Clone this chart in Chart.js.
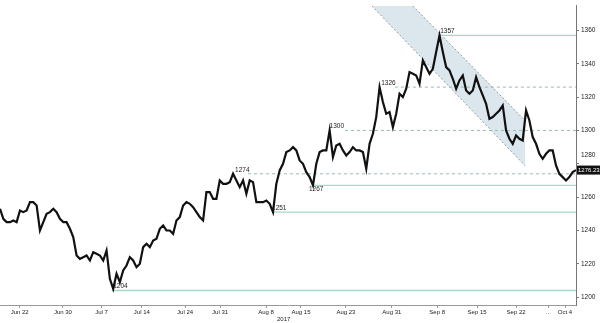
<!DOCTYPE html>
<html>
<head>
<meta charset="utf-8">
<script src="https://cdn.jsdelivr.net/npm/chart.js@4"></script>
<style>
  html, body { margin: 0; padding: 0; background: #fff; }
</style>
</head>
<body>
<canvas id="goldChart" width="600" height="323"></canvas>
<script>
// gold, intraday sessions Jun -> Oct 2017
const prices = [
  1253, 1247, 1245, 1245, 1246, 1245, 1252, 1251, 1252, 1257,
  1257, 1255, 1240, 1245, 1250, 1251, 1253, 1251, 1247, 1245,
  1245, 1241, 1236, 1225, 1223, 1224, 1225, 1222, 1227, 1226,
  1225, 1222, 1228, 1211, 1205, 1214, 1209, 1216, 1219, 1224,
  1222, 1218, 1220, 1230, 1232, 1230, 1234, 1235, 1241, 1243,
  1240, 1240, 1238, 1246, 1248, 1255, 1257, 1256, 1254, 1251,
  1248, 1246, 1263, 1263, 1259, 1259, 1270, 1268, 1268, 1269,
  1274, 1270, 1266, 1270, 1262, 1270, 1269, 1257, 1257, 1257,
  1258, 1256, 1251, 1268, 1276, 1280, 1287, 1288, 1290, 1288,
  1282, 1280, 1275, 1272, 1267, 1280, 1287, 1288, 1288, 1300,
  1284, 1291, 1292, 1288, 1285, 1287, 1290, 1288, 1288, 1287,
  1277, 1292, 1298, 1308, 1326, 1317, 1310, 1311, 1302, 1310,
  1322, 1320, 1325, 1335, 1334, 1333, 1328, 1342, 1338, 1334,
  1337, 1347, 1357, 1347, 1338, 1336, 1331, 1325, 1330, 1333,
  1324, 1322, 1324, 1332, 1326, 1321, 1316, 1307, 1308, 1310,
  1312, 1315, 1300, 1295, 1292, 1297, 1295, 1294, 1312, 1306,
  1296, 1292, 1286, 1283, 1286, 1288, 1288, 1279, 1274, 1272,
  1270, 1272, 1275, 1276.23
];
const lastPrice = 1276.23;

const yTicks = [1200, 1220, 1240, 1260, 1280, 1300, 1320, 1340, 1360];
const xTickAt = [5.9, 18.9, 30.5, 42.6, 55.6, 66.1, 79.9, 90.4, 103.9, 117.7, 131.3, 143.3, 155, 164.7, 169.7];
const xTickLabels = ['Jun 22', 'Jun 30', 'Jul 7', 'Jul 14', 'Jul 24', 'Jul 31', 'Aug 8', 'Aug 15',
  'Aug 23', 'Aug 31', 'Sep 8', 'Sep 15', 'Sep 22', '...', 'Oct 4'];
const yearLabel = '2017';
const yearAt = 85.2;

// support / resistance levels
const levelValues = [1357, 1326, 1300, 1274, 1267, 1251, 1204];
const levelLabelAt = [132.2, 114.5, 99, 70.6, 92.8, 81.7, 34];
const levelLineFrom = [132.2, 118.6, 103.6, 74.5, 94, 81.7, 33.6];
const levelDashed = [false, true, true, true, false, false, false];

// falling channel (index, price)
const channelUpper = [[124, 1374.7], [157.7, 1305.9]];
const channelLower = [[111.7, 1374.7], [157.7, 1278.8]];

const xMax = 173;
const yMin = 1195.3;
const yMax = 1374.7;

const FONT = '"Liberation Sans", Arial, sans-serif';

const toPts = arr => arr.map(p => ({ x: p[0], y: p[1] }));

const datasets = [{
  label: 'Gold',
  data: prices.map((p, i) => ({ x: i, y: p })),
  borderColor: '#111',
  borderWidth: 2.2,
  pointRadius: 0,
  tension: 0,
  order: 0
}];

levelValues.forEach((lv, i) => {
  datasets.push({
    data: [{ x: levelLineFrom[i], y: lv }, { x: xMax, y: lv }],
    borderColor: levelDashed[i] ? '#93bdb4' : '#a4d8ca',
    borderDash: levelDashed[i] ? [3, 3] : [],
    borderWidth: levelDashed[i] ? 1 : 1.3,
    pointRadius: 0,
    order: 1
  });
});

datasets.push({
  data: toPts([channelLower[0], channelUpper[0], channelUpper[1], channelLower[1]]),
  borderWidth: 0,
  backgroundColor: 'rgba(178, 199, 214, 0.45)',
  fill: 'shape',
  pointRadius: 0,
  order: 3
});
[channelUpper, channelLower].forEach(edge => {
  datasets.push({
    data: toPts(edge),
    borderColor: '#8e9ca6',
    borderDash: [2, 2],
    borderWidth: 1,
    pointRadius: 0,
    order: 2
  });
});

const extraText = {
  id: 'extraText',
  afterDatasetsDraw(chart) {
    const { ctx, chartArea } = chart;
    const x = chart.scales.x, y = chart.scales.y;
    ctx.save();
    ctx.font = '6.5px ' + FONT;
    ctx.fillStyle = '#222';
    ctx.textAlign = 'left';
    ctx.textBaseline = 'middle';
    levelValues.forEach((lv, i) => {
      const off = lv === 1267 ? 4 : -4;
      ctx.fillText(String(lv), x.getPixelForValue(levelLabelAt[i]), y.getPixelForValue(lv) + off);
    });

    // 1280 tick label is pushed up by the price flag
    ctx.fillText('1280', chartArea.right + 5, y.getPixelForValue(1280) - 9);

    // last price flag
    const py = y.getPixelForValue(lastPrice);
    ctx.fillStyle = '#111';
    ctx.fillRect(chartArea.right + 1, py - 4.5, chart.width - chartArea.right - 1, 9);
    ctx.fillStyle = '#fff';
    ctx.font = '6px ' + FONT;
    ctx.fillText(lastPrice.toFixed(2), chartArea.right + 2, py + 0.5);

    // year under the axis
    ctx.fillStyle = '#222';
    ctx.textAlign = 'center';
    ctx.fillText(yearLabel, x.getPixelForValue(yearAt), chart.height - 4);
    ctx.restore();
  }
};

new Chart(document.getElementById('goldChart'), {
  type: 'line',
  data: { datasets },
  options: {
    responsive: false,
    animation: false,
    events: [],
    layout: { padding: 0 },
    plugins: {
      legend: { display: false },
      tooltip: { enabled: false }
    },
    scales: {
      x: {
        type: 'linear',
        min: 0,
        max: xMax,
        afterFit(s) { s.height = 18; },
        afterBuildTicks(s) { s.ticks = xTickAt.map(v => ({ value: v })); },
        ticks: {
          autoSkip: false,
          maxRotation: 0,
          padding: 1,
          color: '#222',
          font: { family: FONT, size: 6 },
          callback: (v, i) => xTickLabels[i]
        },
        grid: { drawOnChartArea: false, tickLength: 3, color: '#999' },
        border: { color: '#999', dash: [2, 1] }
      },
      y: {
        position: 'right',
        min: yMin,
        max: yMax,
        afterFit(s) { s.width = 24; },
        afterBuildTicks(s) { s.ticks = yTicks.map(v => ({ value: v })); },
        ticks: {
          padding: 2,
          color: '#222',
          font: { family: FONT, size: 6.5 },
          callback: v => (v === 1280 ? '' : String(v))
        },
        grid: { drawOnChartArea: false, tickLength: 3, color: '#777' },
        border: { color: '#777' }
      }
    }
  },
  plugins: [extraText]
});
</script>
</body>
</html>
